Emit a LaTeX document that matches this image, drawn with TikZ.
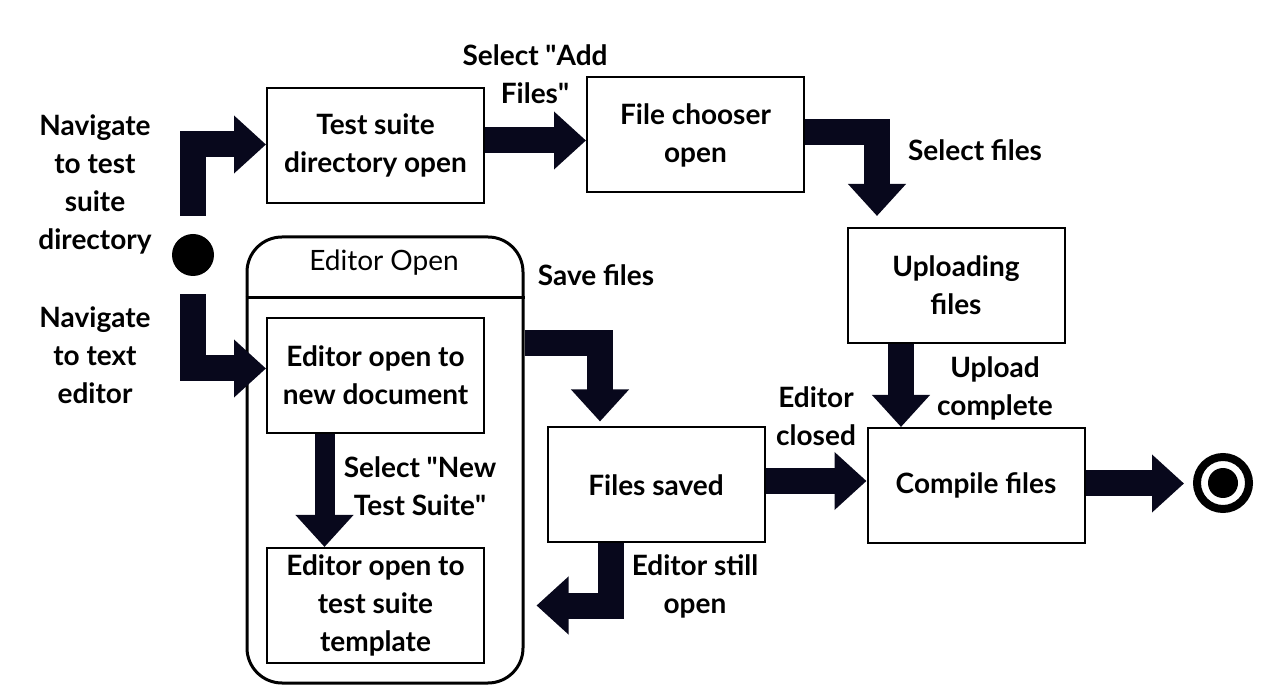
\documentclass[tikz,border=0pt]{standalone}
\usepackage{fontspec}
\setmainfont{Lato}
\usetikzlibrary{calc, positioning, arrows.meta}
\definecolor{arrowfill}{RGB}{8,8,28}
\tikzstyle{state}=[draw, line width=2pt, minimum width=217pt, minimum height=115pt, align=center, font=\bfseries\fontsize{28}{38}\selectfont]
\tikzstyle{tlabel}=[align=center, font=\bfseries\fontsize{28}{38}\selectfont]
\tikzstyle{flow}=[draw=arrowfill, line width=26pt, line join=miter, -{Triangle[width=56pt,length=32pt]}]

\begin{document}
\begin{tikzpicture}[x=1pt, y=-1pt]
		\useasboundingbox (0,0) rectangle (1270,700);
		% container for the editor states
		\node[draw, line width=3pt, rounded corners=35pt, minimum width=276pt, minimum height=446pt] (editor) at (385,460) {};
		\node[font=\fontsize{28}{38}\selectfont] (edtitle) at (384,263) {Editor Open};
		\draw[line width=3pt] (editor.west |- 0,298) -- (editor.east |- 0,298);

		\node[state] (suite) at (375.5,145.5) {Test suite\\directory open};
		\node[state] (chooser) at (695.5,135) {File chooser\\open};
		\node[state] (upload) at (956,285.5) {Uploading\\files};
		\node[state] (newdoc) at (375.5,375.5) {Editor open to\\new document};
		\node[state] (tmpl) at (375.5,605.5) {Editor open to\\test suite\\template};
		\node[state] (saved) at (656,485) {Files saved};
		\node[state] (compile) at (976,485.5) {Compile files};

		\node[circle, fill, minimum size=42pt, inner sep=0pt] (start) at (193,255) {};
		\node[circle, draw, line width=8pt, minimum size=52pt, inner sep=0pt] (finish) at (1223,483) {};
		\node[circle, fill, minimum size=30pt, inner sep=0pt] (finishdot) at (finish) {};

		% transitions
		\draw[flow, shorten <=18pt] (start.north) |- ([yshift=1pt]suite.west);
		\draw[flow, shorten <=18pt] (start.south) |- ([yshift=7pt]newdoc.west);
		\draw[flow] ([yshift=5pt]suite.east) -- ([yshift=5pt]suite.east -| chooser.west);
		\draw[flow, shorten >=11pt] ([yshift=3pt]chooser.east) -| ([xshift=-79pt]upload.north);
		\draw[flow] ([xshift=-55pt]upload.south) -- ([xshift=-75pt]compile.north);
		\draw[flow] ([yshift=4pt]saved.east) -- ([yshift=4pt]saved.east -| compile.west);
		\draw[flow, shorten >=9pt] ([yshift=2pt]compile.east) -- ([yshift=2pt]compile.east -| finish.west);
		\draw[flow, shorten >=5pt] (editor.east |- 0,343) -| ([xshift=-56pt]saved.north);
		\draw[flow] ([xshift=-45pt]saved.south) |- ([xshift=12pt]editor.east |- tmpl.east);
		\draw[flow, line width=20pt] ([xshift=-51pt]newdoc.south) -- ([xshift=-51pt]tmpl.north);

		% transition labels
		\node[tlabel] (l1) at (95,184) {Navigate\\to test\\suite\\directory};
		\node[tlabel] (l2) at (95,355) {Navigate\\to text\\editor};
		\node[tlabel] (l3) at (535,74) {Select \textquotedbl Add\\Files\textquotedbl};
		\node[tlabel] (l4) at (975,150) {Select files};
		\node[tlabel] (l5) at (596,275) {Save files};
		\node[tlabel] (l6) at (995,388) {Upload\\complete};
		\node[tlabel] (l7) at (816,416) {Editor\\closed};
		\node[tlabel] (l8) at (420,486) {Select \textquotedbl New\\Test Suite\textquotedbl};
		\node[tlabel] (l9) at (695,586) {Editor still\\open};
	\end{tikzpicture}
\end{document}
